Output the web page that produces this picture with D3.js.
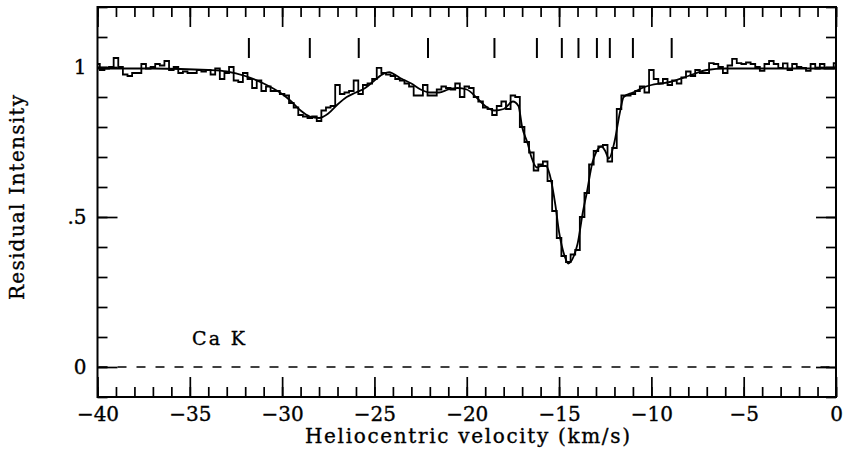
<!DOCTYPE html>
<html>
<head>
<meta charset="utf-8">
<script src="https://cdn.jsdelivr.net/npm/d3@7"></script>
<style>
  body { margin: 0; background: #fff; }
  text { font-family: "DejaVu Serif", serif; fill: #000; stroke: #000; stroke-width: 0.35px; }
</style>
</head>
<body>
<svg id="chart" width="844" height="451"></svg>
<script>
// observed spectrum, one value per 0.25 km/s channel from -40 to 0
const channelStart = -40, channelStep = 0.25;
const observed = [
  1.01, 0.99, 0.995, 1.0, 1.03, 1.0, 0.975, 0.97, 0.98, 0.98,
  1.01, 0.995, 1.0, 1.01, 1.005, 1.02, 0.99, 1.0, 0.98, 0.985,
  0.98, 0.98, 0.99, 0.985, 0.99, 0.975, 0.995, 0.96, 0.98, 1.0,
  0.955, 0.95, 0.98, 0.96, 0.93, 0.955, 0.92, 0.935, 0.92, 0.92,
  0.91,
  0.905, 0.88, 0.865, 0.84, 0.835, 0.83, 0.835, 0.82, 0.855, 0.865,
  0.87, 0.94, 0.91, 0.915, 0.92, 0.955, 0.91, 0.94, 0.945, 0.96,
  0.997, 0.98, 0.975, 0.97, 0.96, 0.955, 0.945, 0.935, 0.905, 0.905,
  0.94, 0.905, 0.905, 0.925, 0.935, 0.93, 0.925, 0.945, 0.9, 0.935,
  0.93, 0.9, 0.885, 0.865, 0.86, 0.84, 0.87, 0.885, 0.86, 0.905,
  0.9, 0.8, 0.75, 0.715, 0.655, 0.675, 0.685, 0.62, 0.52, 0.43,
  0.37, 0.35, 0.375, 0.39, 0.5, 0.58, 0.675, 0.72, 0.735, 0.74,
  0.685, 0.73, 0.86, 0.905, 0.905, 0.91, 0.92, 0.935, 0.915, 0.99,
  0.96, 0.945, 0.96, 0.94, 0.955, 0.945, 0.965, 0.985, 0.97, 0.99,
  0.98, 0.98, 1.013, 1.01, 1.0, 0.98, 1.005, 1.027, 1.013, 1.01,
  1.015, 1.01, 1.0, 0.987, 1.01, 1.02, 1.01, 0.997, 1.012, 0.99,
  1.01, 1.0, 0.997, 0.987, 1.01, 0.995, 1.01, 0.995, 0.995, 1.013
];

// profile fit
const fitVelocity = [
  -40, -37, -34, -33, -32, -31, -30, -29.5, -29, -28.5, -28, -27.5, -27, -26.5,
  -26, -25.5, -25, -24.5, -24.2, -24, -23.5, -23, -22.5, -22, -21.5, -21, -20.5,
  -20, -19.5, -19, -18.5, -18, -17.5, -17.2, -17, -16.7, -16.5, -16.2, -16, -15.7,
  -15.5, -15.2, -15, -14.7, -14.5, -14.2, -14, -13.7, -13.5, -13.2, -13, -12.7,
  -12.5, -12.3, -12, -11.7, -11.5, -11, -10.5, -10, -9.5, -9, -8, -7, -6, 0
];
const fitValue = [
  0.995, 0.995, 0.99, 0.985, 0.97, 0.945, 0.91, 0.885, 0.855, 0.835, 0.83, 0.845, 0.875, 0.9,
  0.915, 0.93, 0.955, 0.978, 0.983, 0.978, 0.96, 0.945, 0.925, 0.915, 0.915, 0.925, 0.93,
  0.925, 0.9, 0.87, 0.855, 0.86, 0.885, 0.87, 0.8, 0.745, 0.7, 0.665, 0.67, 0.67,
  0.64, 0.54, 0.45, 0.37, 0.345, 0.37, 0.41, 0.52, 0.58, 0.68, 0.715, 0.735,
  0.72, 0.695, 0.75, 0.85, 0.9, 0.915, 0.93, 0.94, 0.945, 0.95, 0.97, 0.99, 0.995, 0.995
];

// velocity components marked above the spectrum
const componentVelocity = [-31.8, -28.5, -25.85, -22.1, -18.5, -16.2, -14.85, -13.95, -12.95, -12.25, -11.0, -8.9];

const xMajorTicks = [-40, -35, -30, -25, -20, -15, -10, -5, 0];
const yMajorTicks = [0, 0.5, 1];
const yTickLabels = ["0", ".5", "1"];

const svg = d3.select("#chart");
const plotLeft = 97.5, plotRight = 836, plotTop = 7, plotBottom = 397;

const x = d3.scaleLinear().domain([-40, 0]).range([plotLeft, plotRight]);
const y = d3.scaleLinear().domain([-0.1, 1.2]).range([plotBottom, plotTop]);

svg.append("rect").attr("width", 844).attr("height", 451).attr("fill", "#fff");

const plot = svg.append("g");

// zero level
plot.append("line")
  .attr("x1", x(-40)).attr("x2", x(0))
  .attr("y1", y(0)).attr("y2", y(0))
  .attr("stroke", "#000").attr("stroke-width", 1.7)
  .attr("stroke-dasharray", "9,10").attr("stroke-dashoffset", -20);

// component markers
plot.selectAll(".comp").data(componentVelocity).join("line")
  .attr("class", "comp")
  .attr("x1", d => x(d)).attr("x2", d => x(d))
  .attr("y1", 38).attr("y2", 58)
  .attr("stroke", "#000").attr("stroke-width", 2);

const obsData = observed.map((v, i) => [channelStart + i * channelStep, v]);

plot.append("path")
  .datum(obsData)
  .attr("fill", "none").attr("stroke", "#000").attr("stroke-width", 1.8)
  .attr("d", d3.line().x(d => x(d[0])).y(d => y(d[1])).curve(d3.curveStep));

plot.append("path")
  .datum(fitVelocity.map((v, i) => [v, fitValue[i]]))
  .attr("fill", "none").attr("stroke", "#000").attr("stroke-width", 1.8)
  .attr("d", d3.line().x(d => x(d[0])).y(d => y(d[1])).curve(d3.curveMonotoneX));

// axes: ticks point inward
const xMinor = d3.range(-40, 0.5, 1);
const yMinor = d3.range(-0.1, 1.25, 0.1).map(v => +v.toFixed(1));

function tickStyle(g) {
  g.select(".domain").remove();
  g.selectAll(".tick line").attr("stroke", "#000").attr("stroke-width", 1.7);
}

svg.append("g").attr("transform", `translate(0,${plotBottom})`)
  .call(d3.axisBottom(x).tickValues(xMinor).tickSizeInner(-10).tickFormat(""))
  .call(tickStyle);
svg.append("g").attr("transform", `translate(0,${plotBottom})`)
  .call(d3.axisBottom(x).tickValues(xMajorTicks).tickSizeInner(-20).tickPadding(10).tickFormat(d3.format("d")))
  .call(tickStyle)
  .selectAll("text").style("font-size", "20px").style("font-family", "DejaVu Serif");
svg.append("g").attr("transform", `translate(0,${plotTop})`)
  .call(d3.axisTop(x).tickValues(xMinor).tickSizeInner(-10).tickFormat(""))
  .call(tickStyle);
svg.append("g").attr("transform", `translate(0,${plotTop})`)
  .call(d3.axisTop(x).tickValues(xMajorTicks).tickSizeInner(-20).tickFormat(""))
  .call(tickStyle);

svg.append("g").attr("transform", `translate(${plotLeft},0)`)
  .call(d3.axisLeft(y).tickValues(yMinor).tickSizeInner(-10).tickFormat(""))
  .call(tickStyle);
svg.append("g").attr("transform", `translate(${plotLeft},0)`)
  .call(d3.axisLeft(y).tickValues(yMajorTicks).tickSizeInner(-20).tickPadding(11)
    .tickFormat((d, i) => yTickLabels[i]))
  .call(tickStyle)
  .selectAll("text").style("font-size", "20px").style("font-family", "DejaVu Serif");
svg.append("g").attr("transform", `translate(${plotRight},0)`)
  .call(d3.axisRight(y).tickValues(yMinor).tickSizeInner(-10).tickFormat(""))
  .call(tickStyle);
svg.append("g").attr("transform", `translate(${plotRight},0)`)
  .call(d3.axisRight(y).tickValues(yMajorTicks).tickSizeInner(-20).tickFormat(""))
  .call(tickStyle);

// frame
svg.append("rect")
  .attr("x", plotLeft).attr("y", plotTop)
  .attr("width", plotRight - plotLeft).attr("height", plotBottom - plotTop)
  .attr("fill", "none").attr("stroke", "#000").attr("stroke-width", 2);

// labels
svg.append("text")
  .attr("x", 305).attr("y", 443)
  .attr("textLength", 325).attr("lengthAdjust", "spacing")
  .style("font-size", "20px")
  .text("Heliocentric velocity (km/s)");

svg.append("text")
  .attr("transform", "translate(24,300) rotate(-90)")
  .attr("textLength", 205).attr("lengthAdjust", "spacing")
  .style("font-size", "20px")
  .text("Residual Intensity");

svg.append("text")
  .attr("x", 192).attr("y", 345)
  .attr("textLength", 53).attr("lengthAdjust", "spacing")
  .style("font-size", "19px")
  .text("Ca K");
</script>
</body>
</html>
